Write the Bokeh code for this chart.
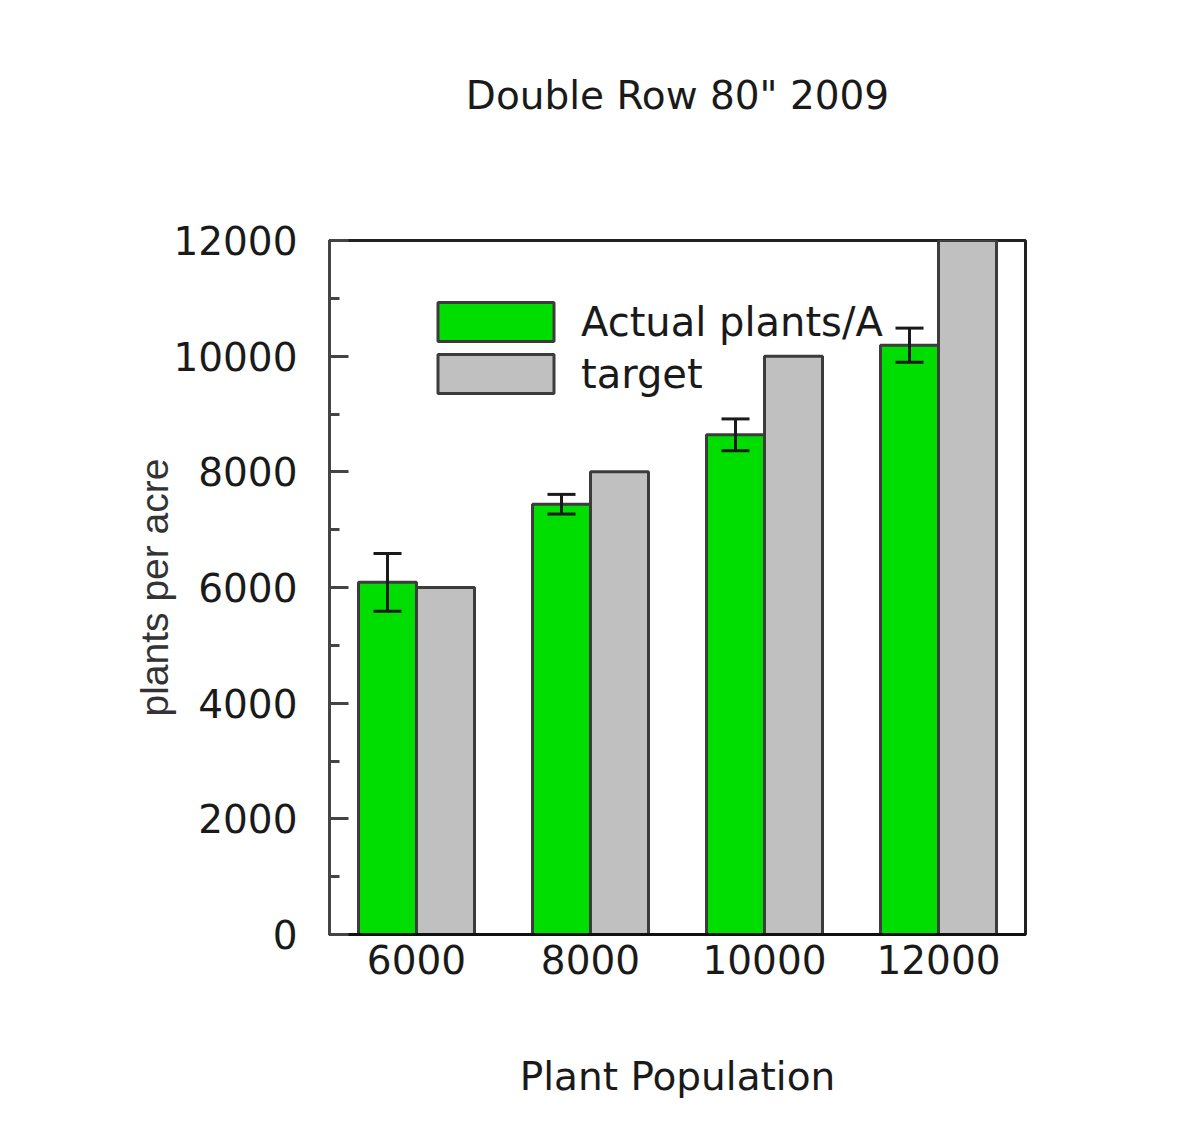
from bokeh.plotting import figure
from bokeh.models import (ColumnDataSource, FactorRange, Range1d, FixedTicker,
                          Whisker, TeeHead, Legend, LegendItem, Title)
from bokeh.transform import dodge
from bokeh.embed import file_html
from bokeh.resources import INLINE

# ---- data ----
categories = ["6000", "8000", "10000", "12000"]
actual = [6090, 7440, 8640, 10190]
actual_err = [500, 170, 275, 295]
target = [6000, 8000, 10000, 12000]
y_major_ticks = [0, 2000, 4000, 6000, 8000, 10000, 12000]
y_minor_ticks = [1000, 3000, 5000, 7000, 9000, 11000]

src = ColumnDataSource(dict(
    cat=categories,
    actual=actual,
    target=target,
    upper=[a + e for a, e in zip(actual, actual_err)],
    lower=[a - e for a, e in zip(actual, actual_err)],
))

FONT = "DejaVu Sans"

p = figure(x_range=FactorRange(*categories), y_range=Range1d(0, 12000),
           width=1181, height=1129, output_backend="svg", toolbar_location=None,
           min_border_left=329, min_border_right=156, min_border_top=240,
           min_border_bottom=195, title='Double Row 80" 2009')

p.background_fill_color = "white"
p.border_fill_color = "white"
p.outline_line_color = "#222222"
p.outline_line_width = 3
p.xgrid.visible = False
p.ygrid.visible = False

# spacer between the frame and the title
p.add_layout(Title(text=" ", text_font_size="1px", standoff=115), "above")

p.title.text_font = FONT
p.title.text_font_size = "39px"
p.title.text_font_style = "normal"
p.title.text_color = "#1a1a1a"
p.title.align = "center"
p.title.standoff = 10

bar_w = 1.0 / 3.0
line_col = "#3c3c3c"
r_act = p.vbar(x=dodge("cat", -bar_w / 2, range=p.x_range), top="actual", width=bar_w,
               source=src, fill_color="#00dd00", line_color=line_col, line_width=3)
r_tgt = p.vbar(x=dodge("cat", bar_w / 2, range=p.x_range), top="target", width=bar_w,
               source=src, fill_color="#c0c0c0", line_color=line_col, line_width=3)

wk = Whisker(base=dodge("cat", -bar_w / 2, range=p.x_range), upper="upper", lower="lower",
             source=src, line_color="#1a1a1a", line_width=3, level="overlay",
             upper_head=TeeHead(size=28, line_color="#1a1a1a", line_width=3),
             lower_head=TeeHead(size=28, line_color="#1a1a1a", line_width=3))
p.add_layout(wk)

# y axis
ya = p.yaxis[0]
ya.ticker = FixedTicker(ticks=y_major_ticks, minor_ticks=y_minor_ticks)
ya.major_tick_in = 19
ya.major_tick_out = 0
ya.minor_tick_in = 10
ya.minor_tick_out = 0
ya.major_tick_line_color = "#444444"
ya.major_tick_line_width = 3
ya.minor_tick_line_color = "#444444"
ya.minor_tick_line_width = 3
ya.axis_line_color = "#444444"
ya.axis_line_width = 3
ya.major_label_text_font = FONT
ya.major_label_text_font_size = "39px"
ya.major_label_text_color = "#1a1a1a"
ya.major_label_standoff = 32
ya.axis_label = "plants per acre"
ya.axis_label_text_font = "Liberation Sans"
ya.axis_label_text_font_size = "39px"
ya.axis_label_text_font_style = "normal"
ya.axis_label_text_color = "#333333"
ya.axis_label_standoff = -6

# x axis
xa = p.xaxis[0]
xa.major_tick_line_color = None
xa.minor_tick_line_color = None
xa.axis_line_color = "#111111"
xa.axis_line_width = 3
xa.major_label_text_font = FONT
xa.major_label_text_font_size = "39px"
xa.major_label_text_color = "#1a1a1a"
xa.major_label_standoff = 4
xa.axis_label = "Plant Population"
xa.axis_label_text_font = FONT
xa.axis_label_text_font_size = "39px"
xa.axis_label_text_font_style = "normal"
xa.axis_label_text_color = "#1a1a1a"
xa.axis_label_standoff = 77

legend = Legend(items=[LegendItem(label="Actual plants/A", renderers=[r_act]),
                       LegendItem(label="target", renderers=[r_tgt])],
                location=(94, 536))
legend.glyph_width = 145
legend.glyph_height = 49
legend.label_standoff = 13
legend.spacing = 3
legend.padding = 0
legend.margin = 0
legend.border_line_color = None
legend.background_fill_alpha = 0
legend.label_text_font = FONT
legend.label_text_font_size = "40px"
legend.label_text_color = "#1a1a1a"
p.add_layout(legend, "center")

open("out.html", "w").write(file_html(p, INLINE))
